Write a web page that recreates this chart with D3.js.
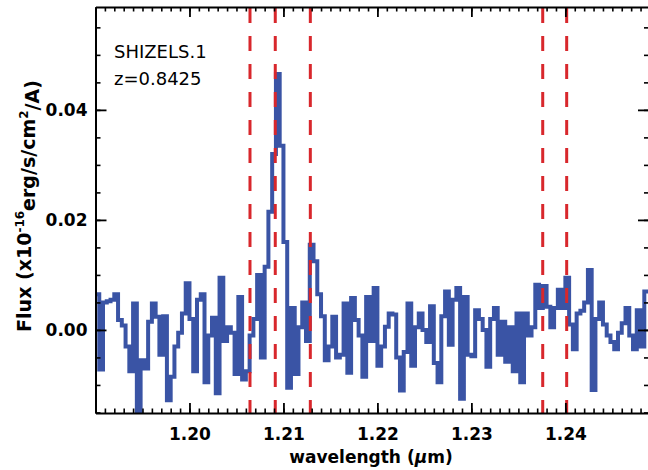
<!DOCTYPE html>
<html>
<head>
<meta charset="utf-8">
<script src="https://cdn.jsdelivr.net/npm/d3@7"></script>
<style>
body { margin: 0; background: #fff; }
svg { display: block; }
text { font-family: "DejaVu Sans", sans-serif; fill: #000; }
</style>
</head>
<body>
<div id="chart"></div>
<script>
// spectrum: pixel centres (micron) and flux (x1e-16 erg/s/cm2/A)
const wavelength = [
  1.1902,1.1906,1.1910,1.1914,1.1918,1.1922,1.1926,1.1930,1.1934,1.1938,
  1.1942,1.1946,1.1950,1.1954,1.1958,1.1962,1.1966,1.1970,1.1974,1.1978,
  1.1982,1.1986,1.1990,1.1994,1.1998,1.2002,1.2006,1.2010,1.2014,1.2018,
  1.2022,1.2026,1.2030,1.2034,1.2038,1.2042,1.2046,1.2050,1.2054,1.2058,
  1.2062,1.2066,1.2070,1.2074,1.2078,1.2082,1.2086,1.2090,1.2094,1.2098,
  1.2102,1.2106,1.2110,1.2114,1.2118,1.2122,1.2126,1.2130,1.2134,1.2138,
  1.2142,1.2146,1.2150,1.2154,1.2158,1.2162,1.2166,1.2170,1.2174,1.2178,
  1.2182,1.2186,1.2190,1.2194,1.2198,1.2202,1.2206,1.2210,1.2214,1.2218,
  1.2222,1.2226,1.2230,1.2234,1.2238,1.2242,1.2246,1.2250,1.2254,1.2258,
  1.2262,1.2266,1.2270,1.2274,1.2278,1.2282,1.2286,1.2290,1.2294,1.2298,
  1.2302,1.2306,1.2310,1.2314,1.2318,1.2322,1.2326,1.2330,1.2334,1.2338,
  1.2342,1.2346,1.2350,1.2354,1.2358,1.2362,1.2366,1.2370,1.2374,1.2378,
  1.2382,1.2386,1.2390,1.2394,1.2398,1.2402,1.2406,1.2410,1.2414,1.2418,
  1.2422,1.2426,1.2430,1.2434,1.2438,1.2442,1.2446,1.2450,1.2454,1.2458,
  1.2462,1.2466,1.2470,1.2474,1.2478,1.2482,1.2486
];
const flux = [
  0.0065,-0.0072,0.0050,0.0052,0.0055,0.0065,0.0018,0.0008,-0.0030,-0.0075,
  0.0048,-0.0155,-0.0055,-0.0070,0.0015,0.0048,0.0024,-0.0045,0.0025,-0.0128,
  -0.0085,-0.0030,-0.0005,0.0030,0.0085,0.0020,-0.0075,0.0055,0.0065,-0.0095,
  -0.0010,0.0022,-0.0115,0.0095,-0.0020,0.0005,-0.0005,-0.0080,0.0060,-0.0090,
  -0.0075,-0.0010,0.0020,0.0100,-0.0050,0.0115,0.0215,0.0320,0.0465,0.0335,
  0.0160,-0.0105,0.0040,-0.0080,0.0005,0.0050,-0.0020,0.0155,0.0125,0.0065,
  0.0025,-0.0055,-0.0030,0.0024,-0.0050,-0.0045,0.0048,-0.0078,0.0058,0.0018,
  -0.0010,-0.0085,0.0060,-0.0020,0.0076,-0.0065,-0.0030,0.0006,0.0030,0.0028,
  -0.0050,-0.0110,-0.0040,0.0048,-0.0065,0.0005,0.0030,0.0000,-0.0022,0.0043,
  -0.0060,-0.0095,0.0025,0.0070,-0.0027,0.0055,0.0076,-0.0125,0.0060,-0.0045,
  -0.0048,0.0036,0.0020,0.0000,-0.0067,0.0020,0.0040,-0.0045,0.0015,-0.0058,
  0.0005,-0.0075,0.0030,-0.0095,0.0030,-0.0010,0.0005,0.0082,0.0040,0.0080,
  0.0042,0.0005,0.0040,0.0073,0.0040,0.0095,0.0010,-0.0035,0.0030,0.0035,
  0.0050,0.0109,-0.0109,0.0020,0.0050,0.0010,-0.0010,-0.0022,-0.0035,-0.0005,
  0.0012,0.0040,-0.0010,-0.0035,0.0036,-0.0030,0.0070
];

// [NII]6548, Halpha, [NII]6583, [SII]6716, [SII]6731 at z=0.8425
const lineWavelengths = [1.20644, 1.20913, 1.21286, 1.23759, 1.24014];

const xTicks = [1.20, 1.21, 1.22, 1.23, 1.24];
const xTickLabels = ["1.20", "1.21", "1.22", "1.23", "1.24"];
const yTicks = [0.00, 0.02, 0.04];
const yTickLabels = ["0.00", "0.02", "0.04"];
const labelLines = ["SHIZELS.1", "z=0.8425"];

var width = 648, height = 470;
var plot = {left: 95.5, right: 649, top: 7, bottom: 413};

var x = d3.scaleLinear().domain([1.19, 1.2489]).range([plot.left, plot.right]);
var y = d3.scaleLinear().domain([-0.0151, 0.0587]).range([plot.bottom, plot.top]);

var svg = d3.select("#chart")
            .append("svg")
            .attr("width", width)
            .attr("height", height);

svg.append("clipPath")
   .attr("id", "plotclip")
   .append("rect")
   .attr("x", plot.left).attr("y", plot.top)
   .attr("width", plot.right - plot.left)
   .attr("height", plot.bottom - plot.top);

// histogram style spectrum
var pts = wavelength.map(function(w, i) { return [w - 0.0002, flux[i]]; });
pts.push([wavelength[wavelength.length - 1] + 0.0002, flux[flux.length - 1]]);

var line = d3.line()
             .x(function(d) { return x(d[0]); })
             .y(function(d) { return y(d[1]); })
             .curve(d3.curveStepAfter);

svg.append("path")
   .datum(pts)
   .attr("clip-path", "url(#plotclip)")
   .attr("d", line)
   .style("fill", "none")
   .style("stroke", "#3a54a5")
   .style("stroke-width", 4)
   .style("stroke-linejoin", "miter");

// emission line markers
svg.append("g")
   .selectAll("line")
   .data(lineWavelengths)
   .enter().append("line")
   .attr("x1", function(d) { return x(d); })
   .attr("x2", function(d) { return x(d); })
   .attr("y1", plot.top + 1)
   .attr("y2", plot.bottom)
   .style("stroke", "#d8272c")
   .style("stroke-width", 3)
   .style("stroke-dasharray", "15,13");

// axes: ticks point inwards on all four sides
function styleAxis(g) {
  g.selectAll(".domain").style("stroke", "#000").style("stroke-width", 2);
  g.selectAll(".tick line").style("stroke", "#000").style("stroke-width", 1.8);
  g.selectAll(".tick text")
   .style("font-family", "'DejaVu Sans', sans-serif")
   .style("font-size", "17px")
   .style("font-weight", "bold")
   .style("fill", "#000");
}
function minor(g) {
  g.select(".domain").remove();
  g.selectAll(".tick line").style("stroke", "#000").style("stroke-width", 1.6);
}

var xMinor = x.ticks(60), yMinor = y.ticks(15);

svg.append("g").attr("transform", "translate(0," + plot.bottom + ")")
   .call(d3.axisBottom(x).tickValues(xMinor).tickFormat("").tickSize(-4.5))
   .call(minor);
svg.append("g").attr("transform", "translate(0," + plot.top + ")")
   .call(d3.axisTop(x).tickValues(xMinor).tickFormat("").tickSize(-4.5))
   .call(minor);
svg.append("g").attr("transform", "translate(" + plot.left + ",0)")
   .call(d3.axisLeft(y).tickValues(yMinor).tickFormat("").tickSize(-5))
   .call(minor);
svg.append("g").attr("transform", "translate(" + plot.right + ",0)")
   .call(d3.axisRight(y).tickValues(yMinor).tickFormat("").tickSize(-5))
   .call(minor);

svg.append("g").attr("transform", "translate(0," + plot.bottom + ")")
   .call(d3.axisBottom(x).tickValues(xTicks)
           .tickFormat(function(d, i) { return xTickLabels[i]; })
           .tickSize(-10).tickSizeOuter(0).tickPadding(15))
   .call(styleAxis);
svg.append("g").attr("transform", "translate(0," + plot.top + ")")
   .call(d3.axisTop(x).tickValues(xTicks).tickFormat("").tickSize(-10).tickSizeOuter(0))
   .call(styleAxis);
svg.append("g").attr("transform", "translate(" + plot.left + ",0)")
   .call(d3.axisLeft(y).tickValues(yTicks)
           .tickFormat(function(d, i) { return yTickLabels[i]; })
           .tickSize(-11).tickSizeOuter(0).tickPadding(8))
   .call(styleAxis);
svg.append("g").attr("transform", "translate(" + plot.right + ",0)")
   .call(d3.axisRight(y).tickValues(yTicks).tickFormat("").tickSize(-11).tickSizeOuter(0))
   .call(styleAxis);

// axis titles
var xt = svg.append("text")
   .attr("x", 371).attr("y", 463)
   .attr("text-anchor", "middle")
   .style("font-size", "17px").style("font-weight", "bold");
xt.append("tspan").text("wavelength (");
xt.append("tspan").style("font-style", "italic").text("\u00b5");
xt.append("tspan").text("m)");

var yt = svg.append("text")
   .attr("transform", "translate(31,206) rotate(-90)")
   .attr("text-anchor", "middle")
   .style("font-size", "19px").style("font-weight", "bold");
yt.append("tspan").text("Flux (x10");
yt.append("tspan").attr("dy", "-0.55em").style("font-size", "12px").text("-16");
yt.append("tspan").attr("dy", "0.55em").text("erg/s/cm");
yt.append("tspan").attr("dy", "-0.55em").style("font-size", "12px").text("2");
yt.append("tspan").attr("dy", "0.55em").text("/A)");

// object label
svg.append("g")
   .selectAll("text")
   .data(labelLines)
   .enter().append("text")
   .attr("x", 114)
   .attr("y", function(d, i) { return 58 + i * 27; })
   .style("font-size", "18px")
   .text(function(d) { return d; });
</script>
</body>
</html>
